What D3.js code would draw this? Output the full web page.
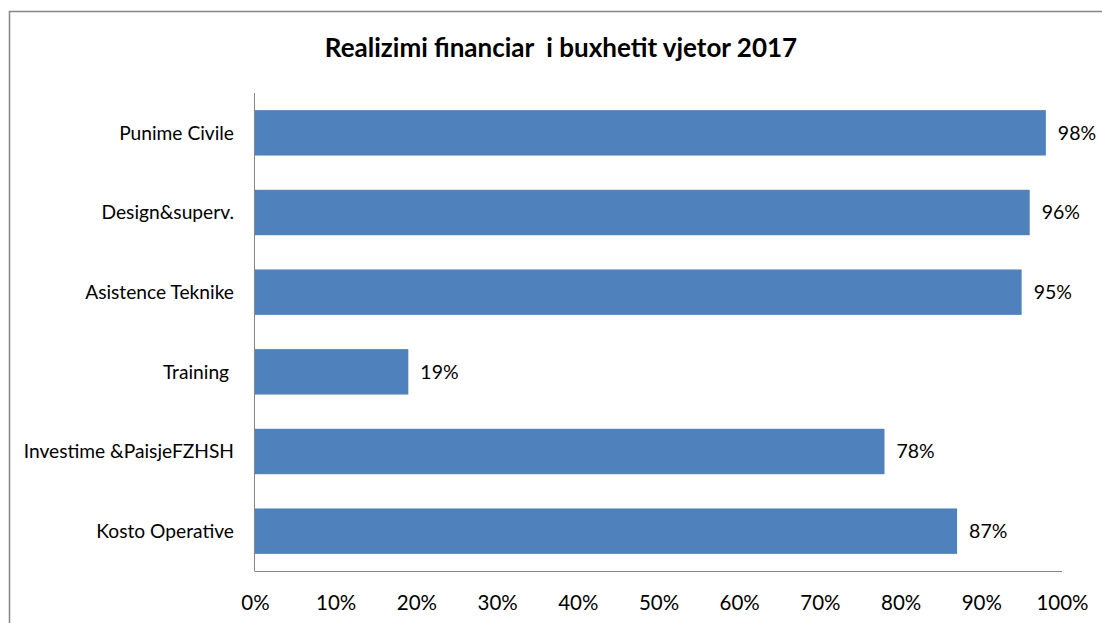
<!DOCTYPE html>
<html>
<head>
<meta charset="utf-8">
<script src="https://cdn.jsdelivr.net/npm/d3@7"></script>
<style>
  body { margin: 0; background: #fff; }
  text { font-family: Lato, "Open Sans", sans-serif; fill: #000; }
</style>
</head>
<body>
<svg id="chart" width="1102" height="623"></svg>
<script>
var categories = ["Punime Civile", "Design&superv.", "Asistence Teknike", "Training ", "Investime &PaisjeFZHSH", "Kosto Operative"];
var values = [0.98, 0.96, 0.95, 0.19, 0.78, 0.87];
var valueLabels = ["98%", "96%", "95%", "19%", "78%", "87%"];
var ticks = [0, 0.1, 0.2, 0.3, 0.4, 0.5, 0.6, 0.7, 0.8, 0.9, 1];

var svg = d3.select("#chart");

// outer frame
svg.append("rect")
  .attr("x", 9.5).attr("y", 11.5)
  .attr("width", 1110).attr("height", 640)
  .attr("fill", "none")
  .attr("stroke", "#868686")
  .attr("stroke-width", 1.5);

svg.append("text")
  .attr("x", 561).attr("y", 57)
  .attr("text-anchor", "middle")
  .attr("font-size", 26)
  .attr("font-weight", "bold")
  .style("white-space", "pre")
  .text("Realizimi financiar  i buxhetit vjetor 2017");

var x = d3.scaleLinear().domain([0, 1]).range([255, 1062]);
var y = d3.scaleBand().domain(categories).range([93, 571]).paddingInner(0.43).paddingOuter(0.215);

svg.selectAll(".bar")
  .data(values)
  .enter().append("rect")
  .attr("class", "bar")
  .attr("x", x(0))
  .attr("y", function (d, i) { return y(categories[i]); })
  .attr("width", function (d) { return x(d) - x(0); })
  .attr("height", y.bandwidth())
  .attr("fill", "#4F81BD");

svg.selectAll(".val")
  .data(values)
  .enter().append("text")
  .attr("class", "val")
  .attr("x", function (d) { return x(d) + 12; })
  .attr("y", function (d, i) { return y(categories[i]) + y.bandwidth() / 2; })
  .attr("dy", "0.35em")
  .attr("font-size", 19.5)
  .text(function (d, i) { return valueLabels[i]; });

// y axis
svg.append("line")
  .attr("x1", 254.5).attr("x2", 254.5)
  .attr("y1", 93).attr("y2", 571)
  .attr("stroke", "#868686");

svg.selectAll(".cat")
  .data(categories)
  .enter().append("text")
  .attr("class", "cat")
  .attr("x", 234)
  .attr("y", function (d) { return y(d) + y.bandwidth() / 2; })
  .attr("dy", "0.35em")
  .attr("text-anchor", "end")
  .attr("font-size", 19.2)
  .style("white-space", "pre")
  .text(function (d) { return d; });

// x axis
var xAxis = svg.append("g")
  .attr("transform", "translate(0,571)")
  .call(d3.axisBottom(x).tickValues(ticks).tickSize(0).tickPadding(24).tickFormat(d3.format(".0%")));
xAxis.select(".domain").attr("stroke", "#868686").attr("d", "M254.5,0.5H1062");
xAxis.selectAll("text").attr("font-size", 20.5).attr("font-family", "Lato, 'Open Sans', sans-serif");
</script>
</body>
</html>
